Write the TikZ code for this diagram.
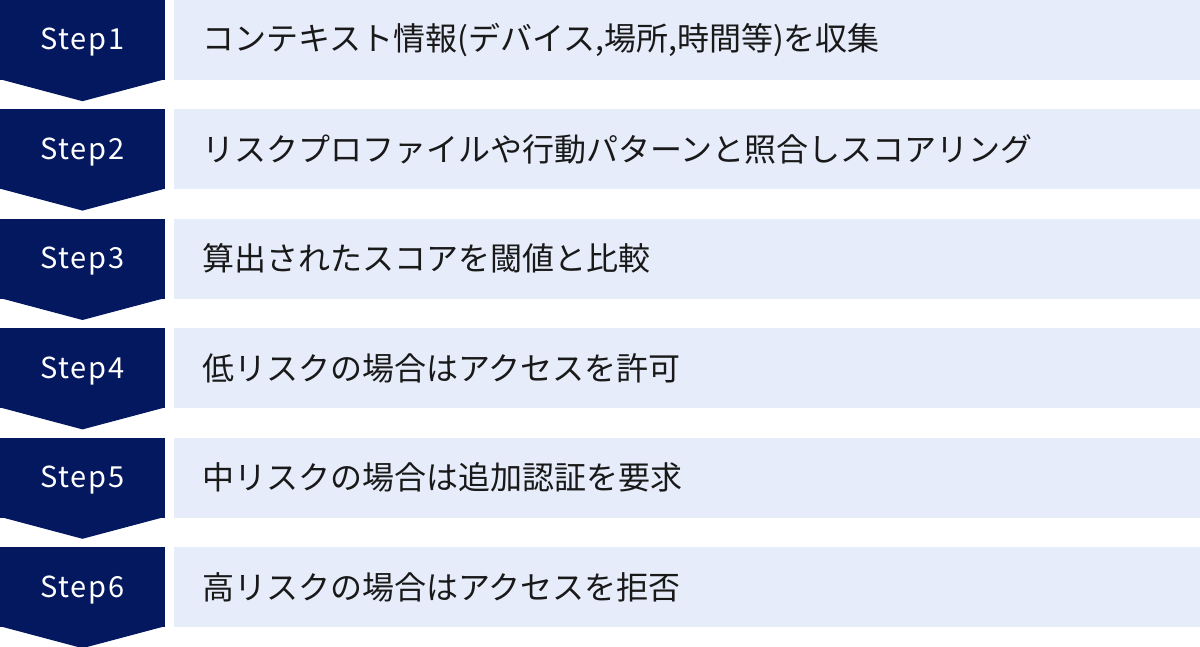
\documentclass[tikz,border=0pt]{standalone}
\usepackage{fontspec}
\newfontfamily\jpfont{Noto Sans CJK JP}
\newfontfamily\stepfont[LetterSpace=6]{Noto Sans CJK JP}
\usetikzlibrary{positioning}
\usepackage{xcolor}
\definecolor{stepnavy}{RGB}{4,24,96}
\definecolor{barblue}{RGB}{230,236,250}

\begin{document}
\begin{tikzpicture}[x=1pt,y=1pt,node distance=29pt and 9pt,
      step node/.style={rectangle,fill=stepnavy,text=white,inner sep=0,
          font=\stepfont\fontsize{29}{34}\selectfont,text height=20pt,text depth=0pt,
          minimum width=165pt,minimum height=80pt},
      bar node/.style={rectangle,fill=barblue,text=black!90,inner xsep=28pt,inner ysep=0,
          text width=970pt,align=left,minimum height=80pt,
          font=\jpfont\fontsize{32}{38}\selectfont}]

    \useasboundingbox (0,0) rectangle (1200,-647);

    \node[step node] (step1) at (82.5,-40) {Step1};
    \node[step node] (step2) [below=of step1] {Step2};
    \node[step node] (step3) [below=of step2] {Step3};
    \node[step node] (step4) [below=of step3] {Step4};
    \node[step node] (step5) [below=of step4] {Step5};
    \node[step node] (step6) [below=of step5] {Step6};

    % chevron under each step
    \foreach \s in {1,...,6}
    \fill[stepnavy] ([yshift=1pt]step\s.south west) -- ([yshift=1pt]step\s.south east)
      -- ([yshift=-21pt]step\s.south) -- cycle;

    \node[bar node] (info) [right=of step1] {コンテキスト情報(デバイス,場所,時間等)を収集};
    \node[bar node] (score) [right=of step2] {リスクプロファイルや行動パターンと照合しスコアリング};
    \node[bar node] (compare) [right=of step3] {算出されたスコアを閾値と比較};
    \node[bar node] (low) [right=of step4] {低リスクの場合はアクセスを許可};
    \node[bar node] (mid) [right=of step5] {中リスクの場合は追加認証を要求};
    \node[bar node] (high) [right=of step6] {高リスクの場合はアクセスを拒否};

  \end{tikzpicture}
\end{document}
